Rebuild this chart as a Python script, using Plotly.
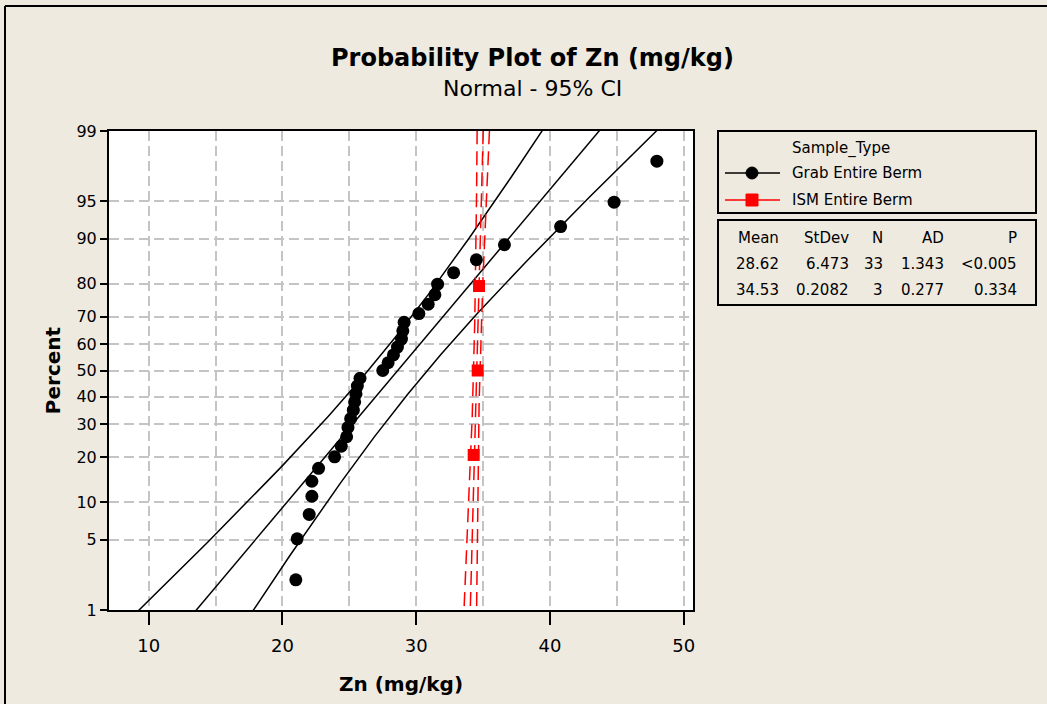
from statistics import NormalDist
import numpy as np
import plotly.graph_objects as go

nd = NormalDist()

# Grab Entire Berm: Zn readings (mg/kg) and their plotted percent positions
grab_zn = [21.0, 21.1, 22.0, 22.2, 22.2, 22.7, 23.9, 24.4, 24.8, 24.9, 25.1,
           25.3, 25.4, 25.5, 25.6, 25.8, 27.5, 27.9, 28.3, 28.6, 28.9, 29.0,
           29.1, 30.2, 30.9, 31.4, 31.6, 32.8, 34.5, 36.6, 40.8, 44.8, 48.0]
grab_pct = [2.1, 5.1, 8.1, 11.1, 14.1, 17.1, 20.1, 23.1, 26.0, 29.0, 32.0,
            35.0, 38.0, 41.0, 44.0, 47.0, 50.0, 53.0, 56.0, 59.0, 62.0, 65.0,
            68.0, 71.0, 74.0, 76.9, 79.9, 82.9, 85.9, 88.9, 91.9, 94.9, 97.9]

# ISM Entire Berm
ism_zn = [34.3, 34.6, 34.7]
ism_pct = [20.6, 50.0, 79.4]

# summary table
groups = ["Grab Entire Berm", "ISM Entire Berm"]
st_mean = [28.62, 34.53]
st_sd = [6.473, 0.2082]
st_n = [33, 3]
st_ad = ["1.343", "0.277"]
st_p = ["<0.005", "0.334"]

pct_ticks = [1, 5, 10, 20, 30, 40, 50, 60, 70, 80, 90, 95, 99]

FONT = "Tahoma, DejaVu Sans, sans-serif"
BG = "#EEEAE0"
W, H = 1047, 704
L, R, T, B = 109, 693, 131, 610   # plot area in pixels


def px(x):
    return (x - L) / (R - L)


def py(y):
    return (B - y) / (B - T)


def z(p):
    return nd.inv_cdf(p / 100.0)


fig = go.Figure()

colors = ["black", "red"]
zgrid = np.linspace(-2.9, 2.9, 300)
for k in range(2):
    m, s, n = st_mean[k], st_sd[k], st_n[k]
    mid = m + zgrid * s
    se = s * np.sqrt(1.0 / n + zgrid ** 2 / (2.0 * n))
    dash = "solid" if k == 0 else "14px,7px"
    for xs in (mid - 1.96 * se, mid, mid + 1.96 * se):
        fig.add_trace(go.Scatter(x=xs, y=zgrid, mode="lines", showlegend=False,
                                 hoverinfo="skip",
                                 line=dict(color=colors[k], width=1.5, dash=dash)))

fig.add_trace(go.Scatter(x=grab_zn, y=[z(p) for p in grab_pct], mode="markers",
                         name=groups[0], showlegend=False,
                         marker=dict(symbol="circle", size=13, color="black")))
fig.add_trace(go.Scatter(x=ism_zn, y=[z(p) for p in ism_pct], mode="markers",
                         name=groups[1], showlegend=False,
                         marker=dict(symbol="square", size=12, color="red")))

grid = dict(showgrid=True, gridcolor="#C4C4C4", gridwidth=1.5, griddash="10px,5px")

fig.update_xaxes(range=[7.03, 50.7], tickvals=[10, 20, 30, 40, 50],
                 ticks="outside", ticklen=13, tickwidth=2, tickcolor="black",
                 ticklabelstandoff=5,
                 showline=True, linewidth=2, linecolor="black", mirror=True,
                 zeroline=False, tickfont=dict(size=18, color="black"),
                 title=dict(text="<b>Zn (mg/kg)</b>", font=dict(size=20, color="black"),
                            standoff=22),
                 minor=dict(dtick=5, tick0=0, showgrid=True, gridcolor="#C4C4C4",
                            gridwidth=1.5, griddash="10px,5px", ticks=""),
                 **grid)
fig.update_yaxes(range=[z(1), z(99)], tickvals=[z(p) for p in pct_ticks],
                 ticktext=[str(p) for p in pct_ticks],
                 ticks="outside", ticklen=7, tickwidth=2, tickcolor="black",
                 showline=True, linewidth=2, linecolor="black", mirror=True,
                 zeroline=False, tickfont=dict(size=16, color="black"),
                 title=dict(text="<b>Percent</b>", font=dict(size=20, color="black"),
                            standoff=10),
                 **grid)

ann = []
ann.append(dict(text="<b>Probability Plot of Zn (mg/kg)</b>", x=px(532), y=py(58),
                font=dict(size=24, color="black")))
ann.append(dict(text="Normal - 95% CI", x=px(532), y=py(88),
                font=dict(size=22, color="black")))

# legend text
ann.append(dict(text="Sample_Type", x=px(790), y=py(148), xanchor="left",
                font=dict(size=15, color="black")))
for k in range(2):
    ann.append(dict(text=groups[k], x=px(790), y=py(173 + 27 * k), xanchor="left",
                    font=dict(size=15, color="black")))

# table
cols_right = [781, 851, 885, 946, 1019]
heads = ["Mean", "StDev", "N", "AD", "P"]
for c, h in enumerate(heads):
    ann.append(dict(text=h, x=px(cols_right[c]), y=py(238), xanchor="right",
                    font=dict(size=15, color="black")))
for k in range(2):
    vals = ["%.2f" % st_mean[k], ("%.4f" % st_sd[k]) if st_sd[k] < 1 else "%.3f" % st_sd[k],
            str(st_n[k]), st_ad[k], st_p[k]]
    for c, v in enumerate(vals):
        ann.append(dict(text=v, x=px(cols_right[c]), y=py(264 + 26 * k), xanchor="right",
                        font=dict(size=15, color="black")))
for a in ann:
    a.update(xref="paper", yref="paper", showarrow=False,
             yanchor=a.get("yanchor", "middle"), xanchor=a.get("xanchor", "center"))

shapes = [
    dict(type="rect", x0=px(718), x1=px(1036), y0=py(131), y1=py(213)),
    dict(type="rect", x0=px(718), x1=px(1036), y0=py(220), y1=py(305)),
    dict(type="line", x0=px(5), x1=px(5), y0=py(6), y1=py(704)),
    dict(type="line", x0=px(5), x1=px(1047), y0=py(6), y1=py(6)),
]
for s in shapes:
    s.update(xref="paper", yref="paper", line=dict(color="black", width=2))

# legend glyphs
for k, sym in enumerate(["circle", "rect"]):
    yc = 173 + 27 * k
    shapes.append(dict(type="line", xref="paper", yref="paper",
                       x0=px(725), x1=px(780), y0=py(yc), y1=py(yc),
                       line=dict(color=colors[k], width=1.5)))
    shapes.append(dict(type=sym, xref="paper", yref="paper",
                       x0=px(746), x1=px(758), y0=py(yc - 6), y1=py(yc + 6),
                       fillcolor=colors[k], line=dict(color=colors[k], width=1)))

fig.update_layout(
    width=W, height=H,
    margin=dict(l=L, r=W - R, t=T, b=H - B),
    paper_bgcolor=BG, plot_bgcolor="white",
    font=dict(family=FONT, color="black"),
    annotations=ann, shapes=shapes,
    showlegend=False,
)

fig.write_html("out.html", config={"displayModeBar": False},
               post_script="document.body.style.margin='0';"
                           "document.body.style.background='%s';" % BG)
